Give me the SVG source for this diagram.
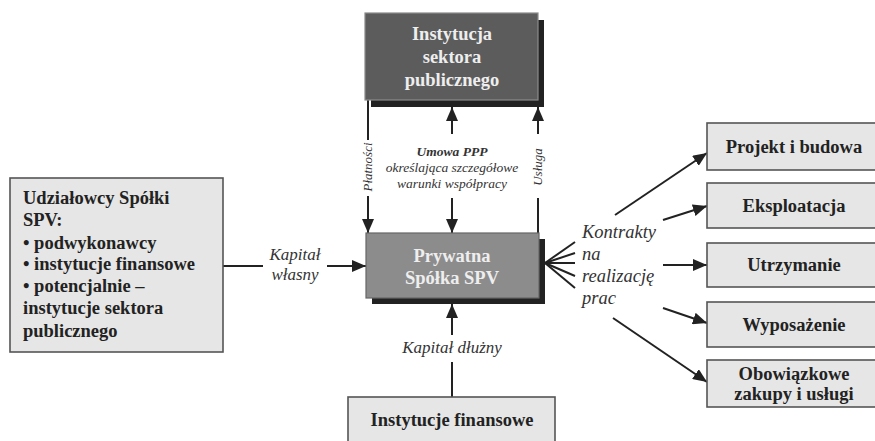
<svg xmlns="http://www.w3.org/2000/svg" width="875" height="441" viewBox="0 0 875 441" font-family="Liberation Serif, Times New Roman, DejaVu Serif, serif">
<defs>
<marker id="ah" viewBox="0 0 14 12" refX="14" refY="6" markerWidth="14" markerHeight="12" markerUnits="userSpaceOnUse" orient="auto">
<path d="M0,0 L14,6 L0,12 Z" fill="#222"/>
</marker>
</defs>
<style>
.box{fill:#e6e6e6;stroke:#555;stroke-width:1.6}
.bt{font-weight:bold;font-size:18.5px;fill:#222}
.wt{font-weight:bold;font-size:18.5px;fill:#eee;text-anchor:middle}
.lab{font-style:italic;fill:#333}
.c{stroke:#222;stroke-width:2;fill:none}
.ca{stroke:#222;stroke-width:2;fill:none;marker-end:url(#ah)}
.mid{text-anchor:middle}
</style>
<rect width="875" height="441" fill="#fff"/>

<g id="connectors">
<line class="c" x1="368" y1="100" x2="368" y2="140"/>
<line class="ca" x1="368" y1="196" x2="368" y2="233"/>
<text class="lab mid" font-size="13" transform="translate(372,167) rotate(-90)">Płatności</text>
<line class="ca" x1="452" y1="134" x2="452" y2="107"/>
<line class="ca" x1="452" y1="198" x2="452" y2="233"/>
<text class="lab mid" font-size="13.5" x="452" y="156" font-weight="bold">Umowa PPP</text>
<text class="lab mid" font-size="13.5" x="452" y="172">określająca szczegółowe</text>
<text class="lab mid" font-size="13.5" x="452" y="188">warunki współpracy</text>
<line class="ca" x1="538" y1="134" x2="538" y2="107"/>
<line class="c" x1="538" y1="198" x2="538" y2="233"/>
<text class="lab mid" font-size="13" transform="translate(542,167) rotate(-90)">Usługa</text>
<line class="c" x1="223" y1="266" x2="263" y2="266"/>
<line class="ca" x1="327" y1="266" x2="366" y2="266"/>
<text class="lab mid" font-size="17" x="295" y="260">Kapitał</text>
<text class="lab mid" font-size="17" x="295" y="280">własny</text>
<line class="ca" x1="452" y1="335" x2="452" y2="304"/>
<line class="c" x1="452" y1="362" x2="452" y2="397"/>
<text class="lab mid" font-size="17" x="452" y="353">Kapitał dłużny</text>
<line class="c" x1="545" y1="263" x2="575" y2="242"/>
<line class="c" x1="545" y1="263" x2="575" y2="253"/>
<line class="c" x1="545" y1="263" x2="575" y2="263"/>
<line class="c" x1="545" y1="263" x2="575" y2="276"/>
<line class="c" x1="545" y1="263" x2="575" y2="288"/>
<text class="lab" font-size="18.5" x="582" y="238">Kontrakty</text>
<text class="lab" font-size="18.5" x="582" y="260">na</text>
<text class="lab" font-size="18.5" x="582" y="282">realizację</text>
<text class="lab" font-size="18.5" x="582" y="304">prac</text>
<line class="ca" x1="615" y1="215" x2="707" y2="153"/>
<line class="ca" x1="663" y1="220" x2="707" y2="206"/>
<line class="ca" x1="663" y1="265" x2="707" y2="265"/>
<line class="ca" x1="663" y1="308" x2="707" y2="323"/>
<line class="ca" x1="613" y1="318" x2="707" y2="382"/>
</g>

<g id="public">
<rect x="371" y="20" width="173" height="87" fill="#222"/>
<rect x="365" y="13" width="173" height="87" fill="#5c5c5c" stroke="#8a8a8a" stroke-width="1.2"/>
<text class="wt" x="452" y="40">Instytucja</text>
<text class="wt" x="452" y="63">sektora</text>
<text class="wt" x="452" y="86">publicznego</text>
</g>

<g id="spv">
<rect x="372" y="239" width="173" height="65" fill="#222"/>
<rect x="366" y="233" width="173" height="65" fill="#8c8c8c" stroke="#666" stroke-width="1.2"/>
<text class="wt" x="452" y="262">Prywatna</text>
<text class="wt" x="452" y="284">Spółka SPV</text>
</g>

<g id="shareholders">
<rect class="box" x="10" y="178" width="213" height="174"/>
<text class="bt" x="23" y="204">Udziałowcy Spółki</text>
<text class="bt" x="23" y="226">SPV:</text>
<text class="bt" x="23" y="249">• podwykonawcy</text>
<text class="bt" x="23" y="270">• instytucje finansowe</text>
<text class="bt" x="23" y="292">• potencjalnie –</text>
<text class="bt" x="23" y="314">instytucje sektora</text>
<text class="bt" x="23" y="337">publicznego</text>
</g>

<g id="finance">
<rect class="box" x="348" y="397" width="207" height="60"/>
<text class="bt mid" x="452" y="426">Instytucje finansowe</text>
</g>

<g id="projekt">
<rect class="box" x="707" y="123" width="180" height="47"/>
<text class="bt mid" x="794" y="153">Projekt i budowa</text>
</g>
<g id="eksploatacja">
<rect class="box" x="707" y="183" width="180" height="45"/>
<text class="bt mid" x="794" y="212">Eksploatacja</text>
</g>
<g id="utrzymanie">
<rect class="box" x="707" y="243" width="180" height="44"/>
<text class="bt mid" x="794" y="271">Utrzymanie</text>
</g>
<g id="wyposazenie">
<rect class="box" x="707" y="302" width="180" height="45"/>
<text class="bt mid" x="794" y="331">Wyposażenie</text>
</g>
<g id="zakupy">
<rect class="box" x="707" y="360" width="180" height="47"/>
<text class="bt mid" x="794" y="380">Obowiązkowe</text>
<text class="bt mid" x="794" y="400">zakupy i usługi</text>
</g>
</svg>
